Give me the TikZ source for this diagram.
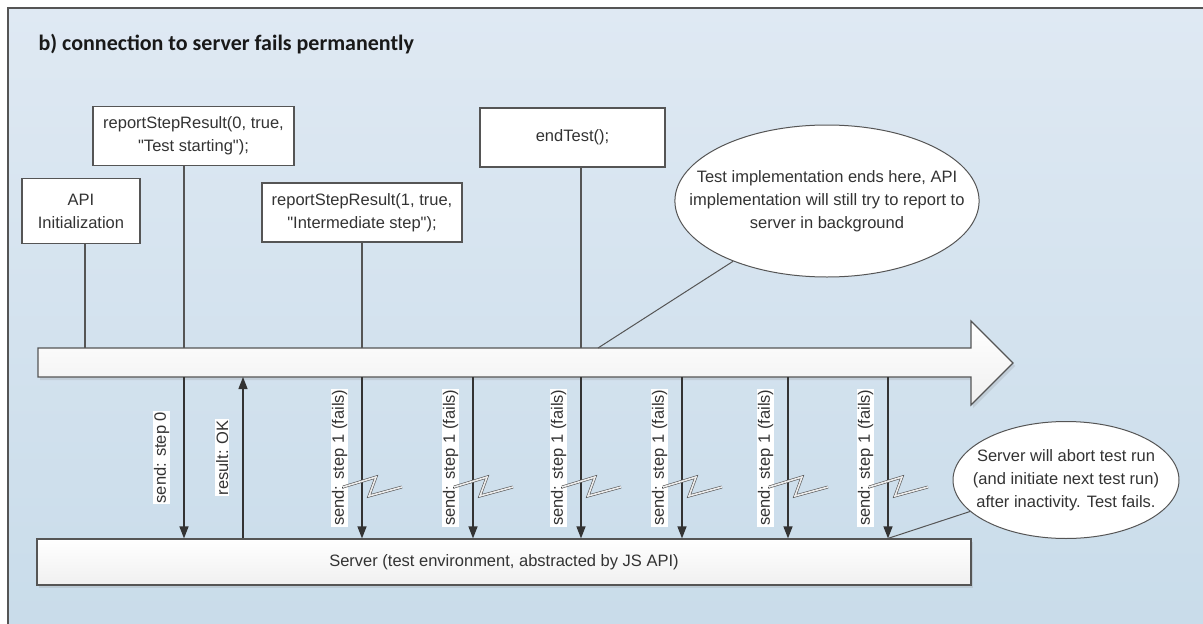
\documentclass[tikz,border=0pt]{standalone}
\usepackage{fontspec}
\setmainfont{Liberation Sans}[Ligatures=TeXOff]
\newfontfamily\titlefont{Carlito}
\usetikzlibrary{arrows.meta,shapes.geometric,shadows}

\definecolor{bgtop}{HTML}{DFE9F3}
\definecolor{bgbot}{HTML}{C9DCEA}
\definecolor{edge}{HTML}{555555}
\definecolor{ink}{HTML}{333333}

\begin{document}
\begin{tikzpicture}[x=1pt,y=-1pt,
    font=\fontsize{16.5}{23}\selectfont, text=ink,
    callbox/.style={draw=edge,line width=1.2pt,fill=white,align=center,inner sep=0pt},
    bubble/.style={ellipse,draw=edge,line width=1pt,fill=white,align=center,inner ysep=0pt,inner xsep=-30pt},
    lane/.style={draw=edge,line width=1.2pt,top color=white,bottom color=gray!12,
        drop shadow={shadow xshift=2pt,shadow yshift=-3pt,opacity=.2}},
    wire/.style={draw=edge,line width=1.2pt},
    msg/.style={draw=ink,line width=1.3pt,-{Triangle[width=9pt,length=12pt]}},
    lbl/.style={xshift=-13pt,rotate=90,anchor=south,fill=white,inner sep=1pt},
    bolt/.style={draw=edge,double=gray!15,double distance=1.6pt,line width=.6pt}]

    \useasboundingbox (0,0) rectangle (1203,624);
    \fill[top color=bgtop,bottom color=bgbot] (8,8) rectangle (1203,624);
    \draw[edge,line width=2pt] (8,630) -- (8,8) -- (1210,8);

    \node[anchor=base west,text=black!90,font=\titlefont\bfseries\fontsize{22}{26}\selectfont] (title) at (35,50)
        {b) connection to server fails permanently};

    % time line and server
    \draw[lane] (38,348) -- (971,348) -- (971,321) -- (1013,363) -- (971,405) -- (971,377) -- (38,377) -- cycle;
    \node[lane,minimum width=934pt,minimum height=46pt,inner sep=0pt] (server) at (504,562)
        {Server (test environment, abstracted by JS API)};

    \node[callbox,minimum width=118pt,minimum height=65pt] (api) at (81,211) {API\\Initialization};
    \node[callbox,minimum width=201pt,minimum height=59pt] (rep0) at (193.5,136) {reportStepResult(0, true,\\"Test starting");};
    \node[callbox,minimum width=200pt,minimum height=59pt] (rep1) at (362,212.5) {reportStepResult(1, true,\\"Intermediate step");};
    \node[callbox,minimum width=185pt,minimum height=59pt] (endt) at (572.5,137.5) {endTest();};

    \node[bubble,minimum width=303pt,minimum height=152pt] (note1) at (827,201)
        {Test implementation ends here, API\\implementation will still try to report to\\server in background};
    \node[bubble,minimum width=226pt,minimum height=117pt] (note2) at (1066,480)
        {Server will abort test run\\(and initiate next test run)\\after inactivity. Test fails.};

    \foreach \nm/\x in {api/85, s0/184, ok/243} {
        \coordinate (\nm-t) at (\x,348);
        \coordinate (\nm-b) at (\x,377);
    }
    \coordinate (n1) at (598,348);

    \draw[msg] (s0-b) -- (s0-b |- server.north) node[midway,lbl] {send: step 0};
    \draw[msg] (ok-b |- server.north) -- (ok-b) node[midway,lbl] {result: OK};

    \foreach \x [count=\i] in {362,473,581,682,788,888} {
        \coordinate (f\i-t) at (\x,348);
        \coordinate (f\i-b) at (\x,377);
        \draw[msg] (f\i-b) -- (f\i-b |- server.north) node[midway,lbl] {send: step 1 (fails)};
        \draw[bolt] (\x-19,487) -- (\x+14,477) -- (\x+7,496) -- (\x+40,487);
    }

    \draw[wire] (api.south -| api-t) -- (api-t);
    \draw[wire] (rep0.south -| s0-t) -- (s0-t);
    \draw[wire] (rep1.south -| f1-t) -- (f1-t);
    \draw[wire] (endt.south -| f3-t) -- (f3-t);

    \draw[wire,line width=1pt] (note1) -- (n1);
    \draw[wire,line width=1pt] (note2) -- (f6-b |- server.north);
\end{tikzpicture}
\end{document}
